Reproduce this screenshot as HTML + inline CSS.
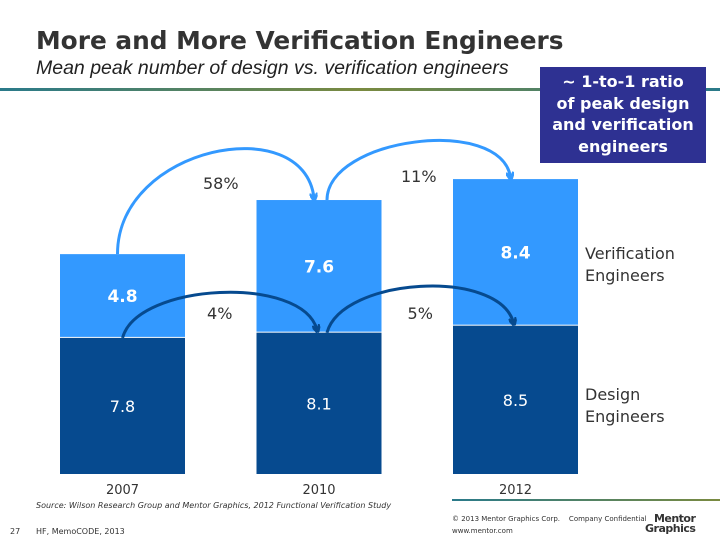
<!DOCTYPE html>
<html><head><meta charset="utf-8"><style>
body{margin:0;width:720px;height:540px;background:#fff;font-family:"DejaVu Sans","Liberation Sans",sans-serif;position:relative;overflow:hidden}
.t{position:absolute;white-space:nowrap}
</style></head><body>
<div class="t" style="left:36px;top:26px;font-size:24.8px;font-weight:bold;color:#333">More and More Verification Engineers</div>
<div class="t" style="left:36px;top:57px;font-size:19.5px;font-style:italic;color:#222;font-family:'Liberation Sans',sans-serif">Mean peak number of design vs. verification engineers</div>
<div style="position:absolute;left:0;top:88px;width:720px;height:3px;background:linear-gradient(90deg,#2a7a8a,#7a8a40 50%,#2a7a8a)"></div>
<div style="position:absolute;left:540px;top:67px;width:166px;height:96px;background:#2e3192;color:#fff;font-size:16px;font-weight:bold;text-align:center;line-height:21.5px;padding-top:4px;box-sizing:border-box">~ 1-to-1 ratio<br>of peak design<br>and verification<br>engineers</div>
<svg id="chart" width="720" height="540" style="position:absolute;left:0;top:0"></svg>
<div class="t" style="left:585px;top:243px;font-size:16px;color:#333;line-height:22px">Verification<br>Engineers</div>
<div class="t" style="left:585px;top:384px;font-size:16px;color:#333;line-height:22px">Design<br>Engineers</div>
<div class="t" style="left:36px;top:501px;font-size:8px;font-style:italic;color:#333">Source: Wilson Research Group and Mentor Graphics, 2012 Functional Verification Study</div>
<div class="t" style="left:10px;top:527px;font-size:8px;color:#333">27</div>
<div class="t" style="left:36px;top:527px;font-size:8px;color:#333">HF, MemoCODE, 2013</div>
<div style="position:absolute;left:452px;top:499px;width:268px;height:2px;background:linear-gradient(90deg,#2a7a8a,#7a8a40)"></div>
<div class="t" style="left:452px;top:515px;font-size:7px;color:#333">© 2013 Mentor Graphics Corp.&nbsp;&nbsp;&nbsp; Company Confidential</div>
<div class="t" style="left:452px;top:527px;font-size:7px;color:#333">www.mentor.com</div>
<div class="t" style="left:645px;top:514px;font-size:11px;font-weight:bold;color:#333;line-height:10px;text-align:right;letter-spacing:-0.5px">Mentor<br>Graphics</div>
<script>
const years=["2007","2010","2012"];
const design=[7.8,8.1,8.5];
const verif=[4.8,7.6,8.4];
const verifGrowth=["58%","11%"];
const designGrowth=["4%","5%"];
const svg=document.getElementById('chart');
const NS='http://www.w3.org/2000/svg';
const base=474, k=17.45, x0=60, step=196.5, bw=125;
const X=i=>x0+i*step, Y=v=>base-v*k;
function mk(t,a){const e=document.createElementNS(NS,t);for(const n in a)e.setAttribute(n,a[n]);svg.appendChild(e);return e;}
const defs=mk('defs',{});
defs.innerHTML='<marker id="al" markerWidth="8" markerHeight="8" refX="5" refY="4" orient="auto" markerUnits="userSpaceOnUse"><path d="M0,0 L8,4 L0,8" fill="none" stroke="#3399ff" stroke-width="3"/></marker><marker id="ad" markerWidth="8" markerHeight="8" refX="5" refY="4" orient="auto" markerUnits="userSpaceOnUse"><path d="M0,0 L8,4 L0,8" fill="none" stroke="#064a8f" stroke-width="3"/></marker>';
years.forEach((yr,i)=>{
  const d=mk('rect',{x:X(i),y:Y(design[i]),width:bw,height:design[i]*k,fill:'#064a8f'});
  
  const v=mk('rect',{x:X(i),y:Y(design[i]+verif[i]),width:bw,height:verif[i]*k-1,fill:'#3399ff'});
  
  const cx=X(i)+bw/2;
  const tv=mk('text',{x:cx,y:Y(design[i]+verif[i]/2)+6,'text-anchor':'middle','font-size':17,'font-weight':'bold',fill:'#fff'});tv.textContent=verif[i];
  
  const td=mk('text',{x:cx,y:Y(design[i]/2)+6,'text-anchor':'middle','font-size':16,fill:'#fff'});td.textContent=design[i];
  
  const ty=mk('text',{x:cx,y:base+20,'text-anchor':'middle','font-size':13,fill:'#333'});ty.textContent=yr;
  
});
const vLift=[88,62], dLift=[55,55];
for(let i=0;i<2;i++){
  const sx=X(i)+bw/2-(i?-8:5), sy=Y(design[i]+verif[i]);
  const ex=X(i+1)+bw/2-5, ey=Y(design[i+1]+verif[i+1])-2;
  const a=mk('path',{d:`M${sx},${sy} C${sx},${sy-vLift[i]-(i?0:20)} ${ex-10},${ey-vLift[i]} ${ex},${ey}`,fill:'none',stroke:'#3399ff','stroke-width':3,'marker-end':'url(#al)'});
  
  const t=mk('text',{x:(sx+ex)/2+(i?0:5),y:i?182:189,'text-anchor':'middle','font-size':16,fill:'#333'});t.textContent=verifGrowth[i];
  
  const dsx=X(i)+bw/2+(i?8:0), dsy=Y(design[i]);
  const dex=X(i+1)+bw/2-2, dey=Y(design[i+1])-3;
  const b=mk('path',{d:`M${dsx},${dsy} C${dsx+15},${dsy-dLift[i]} ${dex-15},${dey-dLift[i]} ${dex},${dey}`,fill:'none',stroke:'#064a8f','stroke-width':3,'marker-end':'url(#ad)'});
  
  const t2=mk('text',{x:(dsx+dex)/2,y:319,'text-anchor':'middle','font-size':16,fill:'#333'});t2.textContent=designGrowth[i];
  
}
</script>
</body></html>
